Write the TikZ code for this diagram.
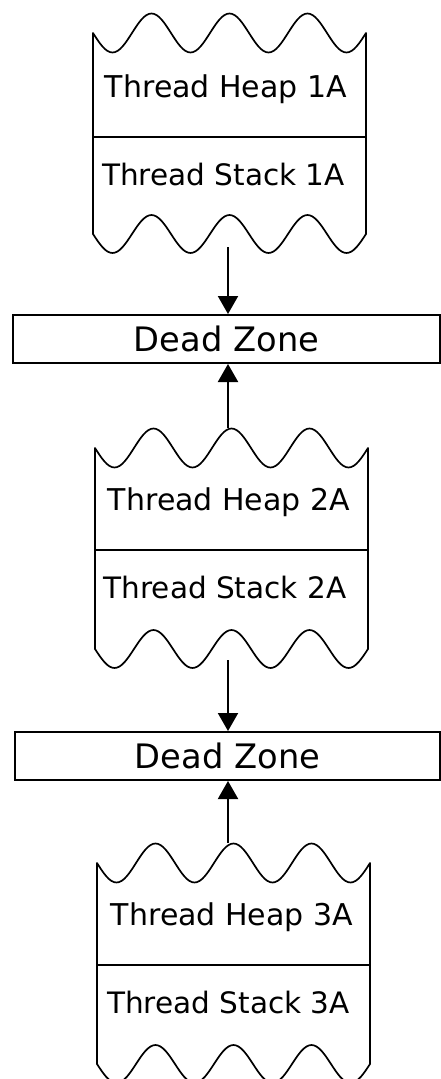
\documentclass[tikz,border=0pt]{standalone}
\usepackage{fontspec}
\setmainfont{DejaVu Sans}
\usetikzlibrary{arrows.meta}
\tikzset{
  blk/.style={line width=1.7pt, line join=round},
  divider/.style={line width=1.3pt},
  heaplbl/.style={font=\fontsize{30}{36}\selectfont, inner sep=0pt, anchor=base},
  stacklbl/.style={font=\fontsize{29.5}{36}\selectfont, inner sep=0pt, anchor=base},
  zone/.style={draw, line width=2pt, inner sep=0pt, font=\fontsize{33.7}{40}\selectfont},
  arr/.style={line width=2pt, -{Triangle[width=20pt,length=18pt]}},
}
\newcommand\memblock[3]{%
  \draw[blk] (#1,#2)
    sin ++(19.5,19.5) cos ++(19.5,-19.5) sin ++(19.5,-19.5) cos ++(19.5,19.5)
    sin ++(19.5,19.5) cos ++(19.5,-19.5) sin ++(19.5,-19.5) cos ++(19.5,19.5)
    sin ++(19.5,19.5) cos ++(19.5,-19.5) sin ++(19.5,-19.5) cos ++(19.5,19.5)
    sin ++(19.5,19.5) cos ++(19.5,-19.5)
    -- ++(0,201)
    sin ++(-19.5,19) cos ++(-19.5,-19) sin ++(-19.5,-19) cos ++(-19.5,19)
    sin ++(-19.5,19) cos ++(-19.5,-19) sin ++(-19.5,-19) cos ++(-19.5,19)
    sin ++(-19.5,19) cos ++(-19.5,-19) sin ++(-19.5,-19) cos ++(-19.5,19)
    sin ++(-19.5,19) cos ++(-19.5,-19)
    -- cycle;
  \draw[divider] (#1,#2+#3) -- ++(273,0);
}
\begin{document}
\begin{tikzpicture}[x=1pt,y=-1pt]
\useasboundingbox (0,0) rectangle (441,1079);

% blocks
\memblock{93}{33}{104}
\memblock{95}{448}{102}
\memblock{97}{863}{102}

% labels
\node[heaplbl]  (heap1)  at (226,97)    {Thread Heap 1A};
\node[stacklbl] (stack1) at (223.5,185) {Thread Stack 1A};
\node[heaplbl]  (heap2)  at (229,510)   {Thread Heap 2A};
\node[stacklbl] (stack2) at (225,598)   {Thread Stack 2A};
\node[heaplbl]  (heap3)  at (232,925)   {Thread Heap 3A};
\node[stacklbl] (stack3) at (228.5,1013) {Thread Stack 3A};

% dead zones
\node[zone, minimum width=427pt, minimum height=48pt] (dz1) at (226.5,339) {Dead Zone};
\node[zone, minimum width=425pt, minimum height=48pt] (dz2) at (227.5,756) {Dead Zone};

% arrow anchors
\coordinate (b1bot) at (228,247);
\coordinate (b2top) at (228,428);
\coordinate (b2bot) at (228,660);
\coordinate (b3top) at (228,843);

\draw[arr] (b1bot) -- (b1bot |- dz1.north);
\draw[arr] (b2top) -- (b2top |- dz1.south);
\draw[arr] (b2bot) -- (b2bot |- dz2.north);
\draw[arr] (b3top) -- (b3top |- dz2.south);
\end{tikzpicture}
\end{document}
